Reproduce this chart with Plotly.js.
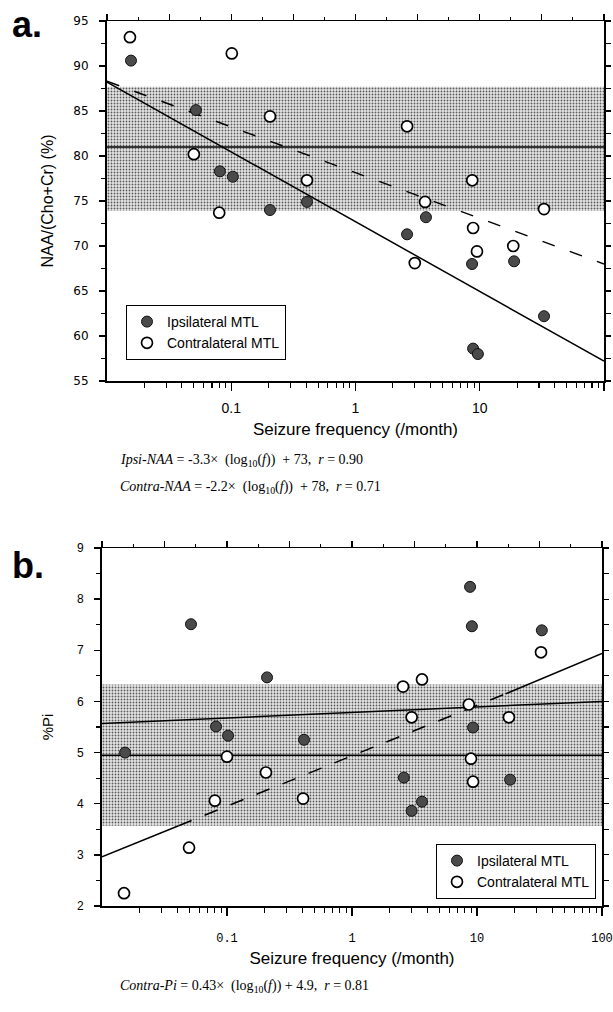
<!DOCTYPE html>
<html>
<head>
<meta charset="utf-8">
<script src="https://cdn.plot.ly/plotly-3.0.1.min.js"></script>
<style>html,body{margin:0;padding:0;background:#fff;}#chart{width:613px;height:1012px;}</style>
</head>
<body>
<div id="chart"></div>
<script>
// ---------- Panel a data: NAA/(Cho+Cr) (%) vs seizure frequency (/month) ----------
const ipsiA_freq = [0.0156, 0.052, 0.081, 0.103, 0.205, 0.407, 2.6, 3.69, 8.67, 8.84, 9.66, 18.9, 32.9];
const ipsiA_naa  = [90.6, 85.1, 78.3, 77.7, 74.0, 74.9, 71.3, 73.2, 68.0, 58.6, 58.0, 68.3, 62.2];
const contraA_freq = [0.0153, 0.050, 0.080, 0.101, 0.205, 0.407, 2.6, 3.0, 3.63, 8.7, 8.84, 9.5, 18.6, 32.9];
const contraA_naa  = [93.2, 80.2, 73.7, 91.4, 84.4, 77.3, 83.3, 68.1, 74.9, 77.3, 72.0, 69.4, 70.0, 74.1];
// fitted lines (end values)
const ipsiA_fitFreq = [0.01, 100];
const ipsiA_fitNaa  = [88.2, 57.2];
const contraA_fitFreq = [0.01, 100];
const contraA_fitNaa  = [88.3, 68.0];
// normal range (control mean and band)
const normalA_mean = 81.0, normalA_lo = 73.9, normalA_hi = 87.7;

// ---------- Panel b data: %Pi vs seizure frequency ----------
const ipsiB_freq = [0.0153, 0.0515, 0.0817, 0.102, 0.209, 0.413, 2.6, 3.0, 3.63, 8.8, 9.1, 9.3, 18.4, 33.0];
const ipsiB_pi   = [5.0, 7.51, 5.51, 5.33, 6.47, 5.25, 4.51, 3.86, 4.04, 8.24, 7.47, 5.49, 4.47, 7.39];
const contraB_freq = [0.015, 0.0497, 0.080, 0.1, 0.205, 0.406, 2.56, 3.0, 3.63, 8.6, 8.95, 9.3, 18.0, 32.5];
const contraB_pi   = [2.25, 3.14, 4.06, 4.92, 4.61, 4.10, 6.29, 5.69, 6.43, 5.94, 4.88, 4.43, 5.69, 6.96];
// fitted lines
const upperB_fitFreq = [0.01, 100];
const upperB_fitPi   = [5.57, 6.0];
const contraB_fitFreq = [0.01, 0.041, 17, 100];
const contraB_fitPi   = [2.96, 3.57, 6.15, 6.94];
const normalB_mean = 4.95, normalB_lo = 3.57, normalB_hi = 6.33;

const xTickVals = [0.1, 1, 10, 100];
const xTickText = ['0.1', '1', '10', '100'];

// ---------- layout helpers ----------
const W = 613, H = 1012;
const px = v => v / W;
const py = v => 1 - v / H;
const minorLog = [];
[0.01, 0.1, 1, 10].forEach(d => { for (let k = 2; k <= 9; k++) minorLog.push(+(d * k).toPrecision(3)); });

const filledMarker = {symbol: 'circle', size: 11, color: '#4a4a4a', line: {color: '#111', width: 1}};
const openMarkerFill = {symbol: 'circle', size: 11, color: '#fff', line: {color: '#000', width: 1.7}};
const stipple = {shape: '.', size: 3, solidity: 0.3, fgcolor: '#5a5a5a', bgcolor: '#e6e6e6'};

function band(lo, hi, xa, ya) {
  return {x: [0.01, 100, 100, 0.01, 0.01], y: [lo, lo, hi, hi, lo], xaxis: xa, yaxis: ya,
    mode: 'lines', fill: 'toself', fillcolor: 'rgba(200,200,200,1)', fillpattern: stipple,
    line: {width: 0}, showlegend: false, hoverinfo: 'skip'};
}
function hline(v, xa, ya) {
  return {x: [0.01, 100], y: [v, v], xaxis: xa, yaxis: ya, mode: 'lines',
    line: {color: '#000', width: 1.5}, showlegend: false, hoverinfo: 'skip'};
}

const traces = [
  band(normalA_lo, normalA_hi, 'x', 'y'),
  hline(normalA_mean, 'x', 'y'),
  {x: ipsiA_fitFreq, y: ipsiA_fitNaa, xaxis: 'x', yaxis: 'y', mode: 'lines', line: {color: '#000', width: 1.5}, showlegend: false},
  {x: contraA_fitFreq, y: contraA_fitNaa, xaxis: 'x', yaxis: 'y', mode: 'lines', line: {color: '#000', width: 1.5, dash: '13px,16px'}, showlegend: false},
  {x: ipsiA_freq, y: ipsiA_naa, xaxis: 'x', yaxis: 'y', mode: 'markers', marker: filledMarker, name: 'Ipsilateral MTL', legend: 'legend', legendgroup: 'ia'},
  {x: contraA_freq, y: contraA_naa, xaxis: 'x', yaxis: 'y', mode: 'markers', marker: openMarkerFill, name: 'Contralateral MTL', legend: 'legend', legendgroup: 'ca'},
  {x: [], y: [], xaxis: 'x3', yaxis: 'y', showlegend: false},
  {x: [], y: [], xaxis: 'x', yaxis: 'y3', showlegend: false},

  band(normalB_lo, normalB_hi, 'x2', 'y2'),
  hline(normalB_mean, 'x2', 'y2'),
  {x: upperB_fitFreq, y: upperB_fitPi, xaxis: 'x2', yaxis: 'y2', mode: 'lines', line: {color: '#000', width: 1.5}, showlegend: false},
  {x: contraB_fitFreq.slice(0, 2), y: contraB_fitPi.slice(0, 2), xaxis: 'x2', yaxis: 'y2', mode: 'lines', line: {color: '#000', width: 1.5}, showlegend: false},
  {x: contraB_fitFreq.slice(1, 3), y: contraB_fitPi.slice(1, 3), xaxis: 'x2', yaxis: 'y2', mode: 'lines', line: {color: '#000', width: 1.5, dash: '14px,14px'}, showlegend: false},
  {x: contraB_fitFreq.slice(2), y: contraB_fitPi.slice(2), xaxis: 'x2', yaxis: 'y2', mode: 'lines', line: {color: '#000', width: 1.5}, showlegend: false},
  {x: ipsiB_freq, y: ipsiB_pi, xaxis: 'x2', yaxis: 'y2', mode: 'markers', marker: filledMarker, name: 'Ipsilateral MTL', legend: 'legend2', legendgroup: 'ib'},
  {x: contraB_freq, y: contraB_pi, xaxis: 'x2', yaxis: 'y2', mode: 'markers', marker: openMarkerFill, name: 'Contralateral MTL', legend: 'legend2', legendgroup: 'cb'},
  {x: [], y: [], xaxis: 'x4', yaxis: 'y2', showlegend: false},
  {x: [], y: [], xaxis: 'x2', yaxis: 'y4', showlegend: false}
];

const helv = 'Liberation Sans, Arial, sans-serif';
const serif = 'Liberation Serif, Times New Roman, serif';

function logX(domain, anchor, tickFont, standoff, titleStandoff) {
  return {domain: domain, anchor: anchor, type: 'log', range: [-2, 2],
    tickmode: 'array', tickvals: xTickVals, ticktext: xTickText,
    ticks: 'outside', ticklen: 8, tickwidth: 1.3, tickcolor: '#000',
    minor: {tickmode: 'array', tickvals: minorLog, ticks: 'outside', ticklen: 5, tickwidth: 1.1, tickcolor: '#000', showgrid: false},
    showline: true, linewidth: 2, linecolor: '#000', showgrid: false, zeroline: false,
    tickfont: tickFont, ticklabelstandoff: standoff,
    title: {text: 'Seizure frequency (/month)', font: {family: helv, size: 17, color: '#000'}, standoff: titleStandoff}};
}
function topX(domain, anchor, over) {
  return {domain: domain, anchor: anchor, overlaying: over, side: 'top', range: [0, 16],
    tickmode: 'linear', tick0: 0, dtick: 2, ticks: 'outside', ticklen: 6, tickwidth: 1.2, tickcolor: '#000',
    minor: {dtick: 1, ticks: 'outside', ticklen: 3, tickwidth: 1, tickcolor: '#000'},
    showticklabels: false, showline: true, linewidth: 1.5, linecolor: '#000', showgrid: false, zeroline: false};
}
function rightY(domain, anchor, over, range, dtick) {
  return {domain: domain, anchor: anchor, overlaying: over, side: 'right', range: range,
    tickmode: 'linear', tick0: range[0], dtick: dtick, ticks: 'outside', ticklen: 5, tickwidth: 1.1, tickcolor: '#000',
    showticklabels: false, showline: true, linewidth: 1.5, linecolor: '#000', showgrid: false, zeroline: false};
}

const domXA = [px(107), px(604)], domYA = [py(381), py(21)];
const domXB = [px(102), px(602)], domYB = [py(906), py(548)];

const layout = {
  width: W, height: H, margin: {l: 0, r: 0, t: 0, b: 0},
  paper_bgcolor: '#fff', plot_bgcolor: 'rgba(0,0,0,0)',
  showlegend: true,
  xaxis: logX(domXA, 'y', {family: helv, size: 14, color: '#000'}, 5, 8),
  yaxis: {domain: domYA, anchor: 'x', range: [55, 95], tickmode: 'linear', tick0: 55, dtick: 5,
    ticks: 'outside', ticklen: 6, tickwidth: 1.3, tickcolor: '#000',
    minor: {dtick: 2.5, ticks: 'outside', ticklen: 4, tickwidth: 1.1, tickcolor: '#000'},
    showline: true, linewidth: 2, linecolor: '#000', showgrid: false, zeroline: false,
    tickfont: {family: 'DejaVu Sans, sans-serif', size: 12, color: '#000'}, ticklabelstandoff: 8,
    title: {text: 'NAA/(Cho+Cr) (%)', font: {family: helv, size: 16, color: '#000'}, standoff: 16}},
  xaxis3: topX(domXA, 'y', 'x'),
  yaxis3: rightY(domYA, 'x', 'y', [55, 95], 2.5),

  xaxis2: logX(domXB, 'y2', {family: 'Liberation Mono, Courier New, monospace', size: 12, color: '#000'}, 12, 7),
  yaxis2: {domain: domYB, anchor: 'x2', range: [2, 9], tickmode: 'linear', tick0: 2, dtick: 1,
    ticks: 'outside', ticklen: 6, tickwidth: 1.3, tickcolor: '#000',
    minor: {dtick: 0.5, ticks: 'outside', ticklen: 4, tickwidth: 1.1, tickcolor: '#000'},
    showline: true, linewidth: 2, linecolor: '#000', showgrid: false, zeroline: false,
    tickfont: {family: helv, size: 12, color: '#000'}, ticklabelstandoff: 8,
    title: {text: '%Pi', font: {family: helv, size: 15, color: '#000'}, standoff: 20}},
  xaxis4: topX(domXB, 'y2', 'x2'),
  yaxis4: rightY(domYB, 'x2', 'y2', [2, 9], 0.5),

  legend: {x: px(126), y: py(305), xanchor: 'left', yanchor: 'top', bgcolor: '#fff',
    bordercolor: '#000', borderwidth: 1, font: {family: helv, size: 14, color: '#000'},
    traceorder: 'normal', tracegroupgap: 7, itemwidth: 30},
  legend2: {x: px(436), y: py(844), xanchor: 'left', yanchor: 'top', bgcolor: '#fff',
    bordercolor: '#000', borderwidth: 1, font: {family: helv, size: 14, color: '#000'},
    traceorder: 'normal', tracegroupgap: 7, itemwidth: 30},

  annotations: [
    {xref: 'paper', yref: 'paper', x: px(10), y: py(25), xanchor: 'left', yanchor: 'middle', showarrow: false,
      text: '<b>a.</b>', font: {family: helv, size: 36, color: '#000'}},
    {xref: 'paper', yref: 'paper', x: px(10), y: py(565), xanchor: 'left', yanchor: 'middle', showarrow: false,
      text: '<b>b.</b>', font: {family: helv, size: 36, color: '#000'}},
    {xref: 'paper', yref: 'paper', x: px(118), y: py(461), xanchor: 'left', yanchor: 'middle', showarrow: false,
      text: '<i>Ipsi-NAA</i> = -3.3×  (log<sub>10</sub>(<i>f</i>))  + 73,  <i>r</i> = 0.90', font: {family: serif, size: 14, color: '#000'}},
    {xref: 'paper', yref: 'paper', x: px(118), y: py(487), xanchor: 'left', yanchor: 'middle', showarrow: false,
      text: '<i>Contra-NAA</i> = -2.2×  (log<sub>10</sub>(<i>f</i>))  + 78,  <i>r</i> = 0.71', font: {family: serif, size: 14, color: '#000'}},
    {xref: 'paper', yref: 'paper', x: px(118), y: py(986), xanchor: 'left', yanchor: 'middle', showarrow: false,
      text: '<i>Contra-Pi</i> = 0.43×  (log<sub>10</sub>(<i>f</i>)) + 4.9,  <i>r</i> = 0.81', font: {family: serif, size: 14, color: '#000'}}
  ]
};

Plotly.newPlot('chart', traces, layout, {displayModeBar: false, staticPlot: true});
</script>
</body>
</html>
